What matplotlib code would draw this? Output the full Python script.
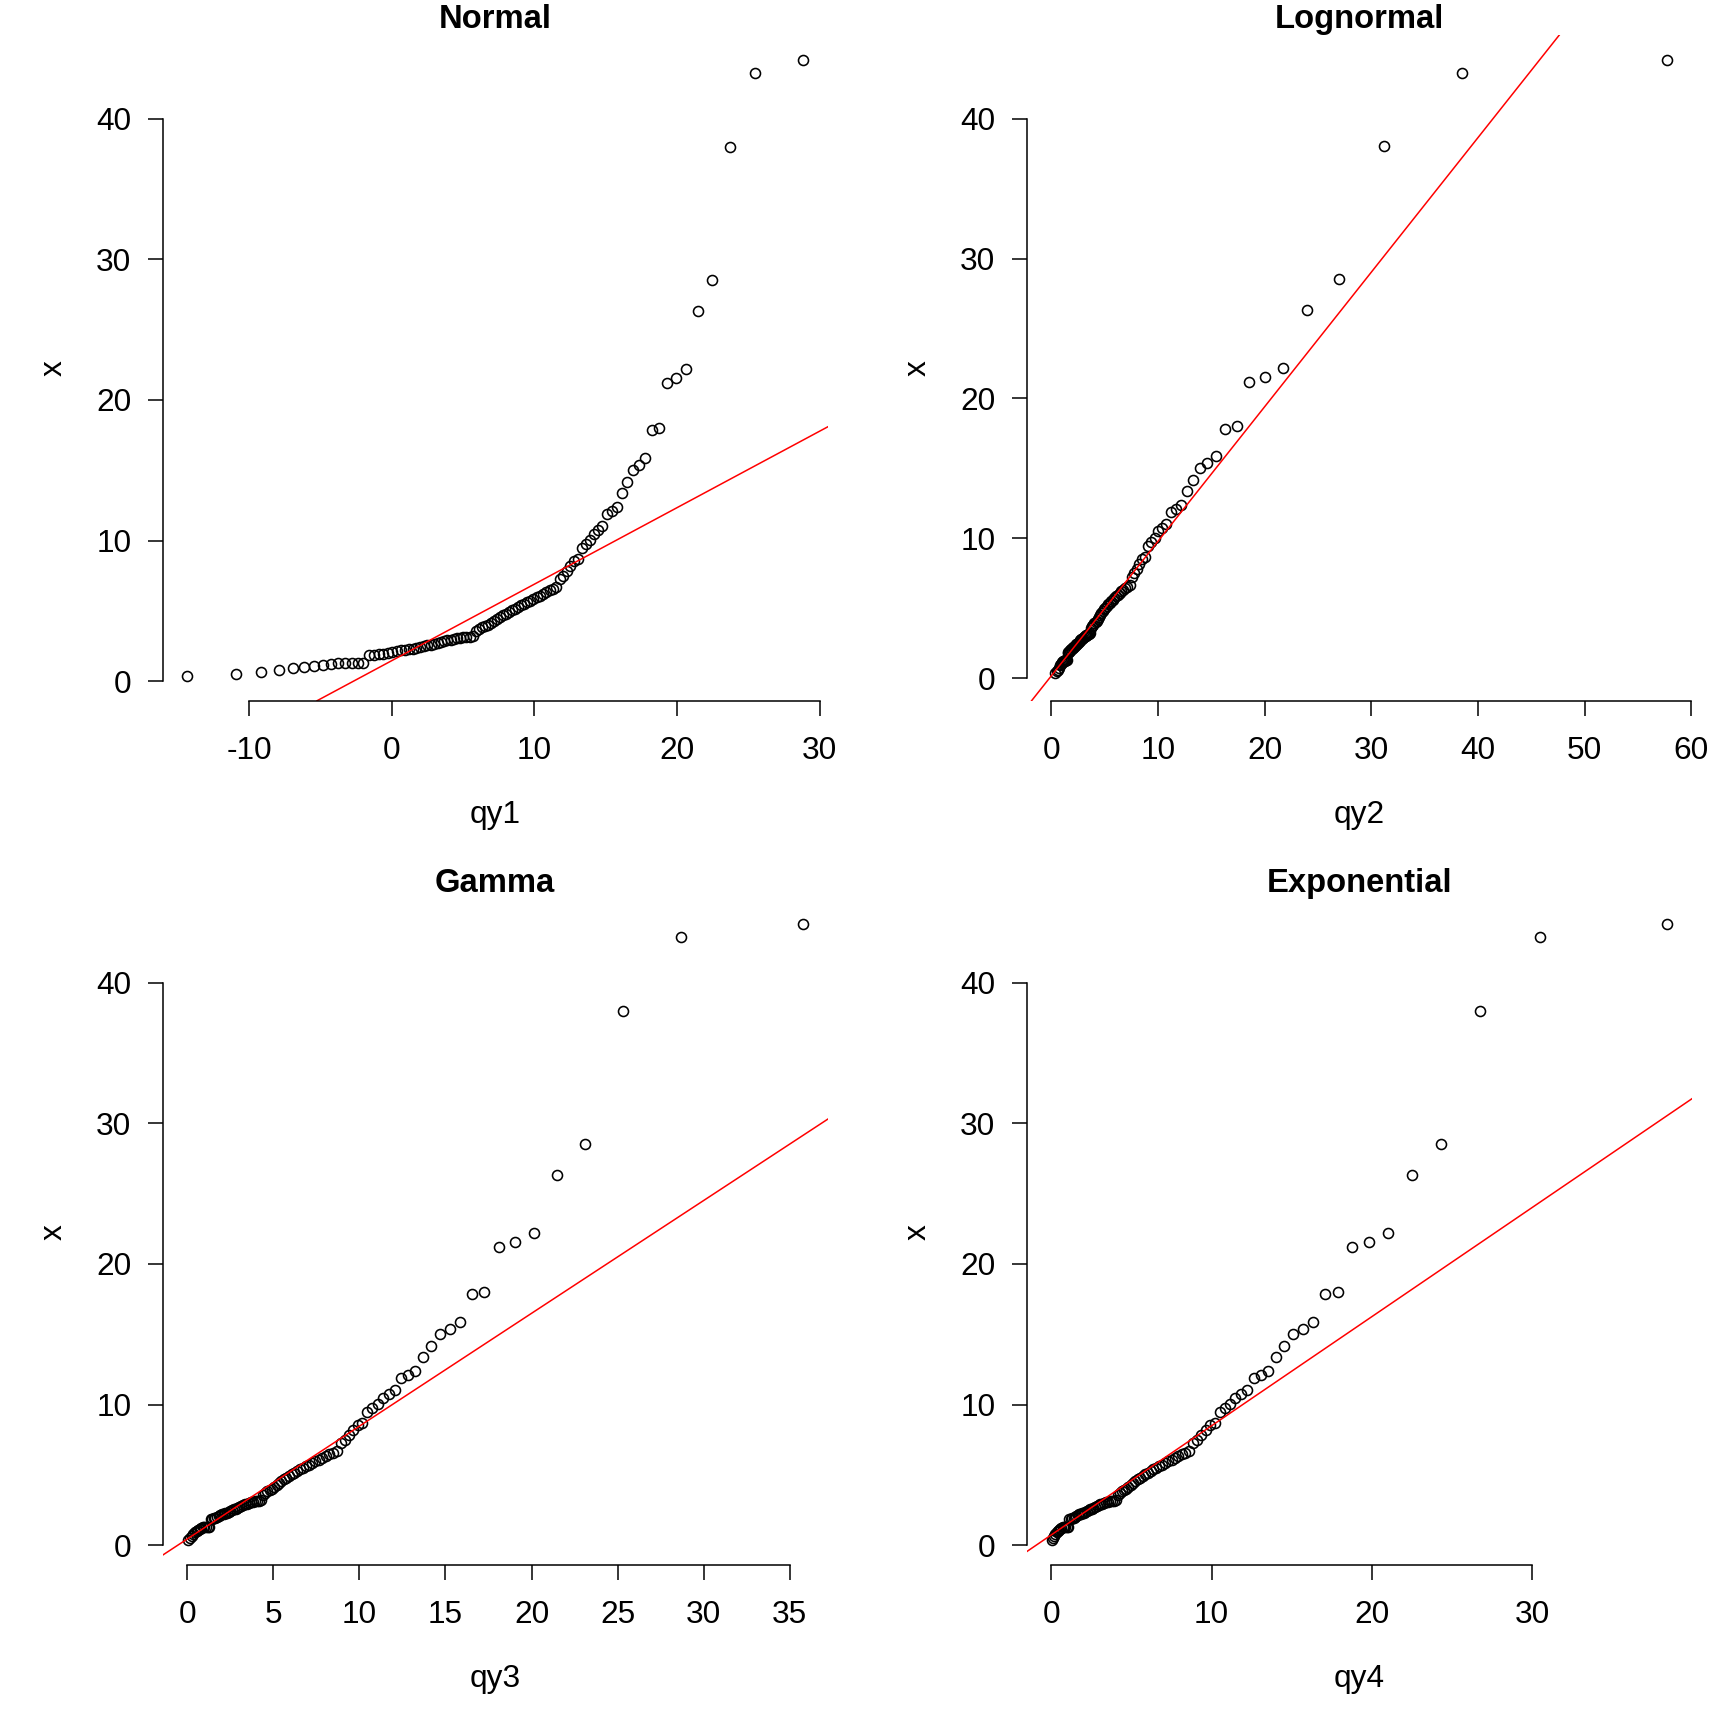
import matplotlib
matplotlib.use("Agg")
import matplotlib.pyplot as plt

plt.rcParams['font.family'] = ['Liberation Sans', 'DejaVu Sans']

# sorted sample x (shared y values of all four QQ plots)
x = [0.36, 0.50, 0.62, 0.76, 0.95, 1.00, 1.07, 1.15, 1.22, 1.26,
     1.27, 1.29, 1.30, 1.32, 1.84, 1.87, 1.90, 1.95, 2.00, 2.06,
     2.12, 2.18, 2.22, 2.27, 2.32, 2.37, 2.42, 2.48, 2.54, 2.60,
     2.66, 2.72, 2.78, 2.84, 2.90, 2.96, 3.01, 3.05, 3.08, 3.11,
     3.14, 3.17, 3.22, 3.60, 3.72, 3.82, 3.92, 4.02, 4.12, 4.26,
     4.40, 4.55, 4.68, 4.80, 4.92, 5.04, 5.16, 5.28, 5.40, 5.51,
     5.62, 5.73, 5.85, 5.97, 6.09, 6.21, 6.33, 6.45, 6.55, 6.70,
     7.25, 7.50, 7.80, 8.20, 8.55, 8.70, 9.46, 9.76, 10.02, 10.50,
     10.75, 11.02, 11.92, 12.11, 12.36, 13.35, 14.15, 15.04, 15.36, 15.86,
     17.83, 18.00, 21.18, 21.53, 22.19, 26.30, 28.51, 38.03, 43.27, 44.20]

# theoretical quantiles: Normal
qy1 = [-14.36, -10.96, -9.19, -7.95, -6.97, -6.16, -5.45, -4.83, -4.26, -3.75,
       -3.27, -2.82, -2.40, -2.01, -1.63, -1.27, -0.92, -0.59, -0.27, 0.04,
       0.34, 0.63, 0.91, 1.19, 1.46, 1.72, 1.98, 2.23, 2.48, 2.73,
       2.97, 3.21, 3.44, 3.67, 3.90, 4.13, 4.36, 4.58, 4.80, 5.02,
       5.23, 5.45, 5.66, 5.88, 6.09, 6.30, 6.51, 6.72, 6.94, 7.15,
       7.36, 7.57, 7.78, 7.99, 8.20, 8.41, 8.62, 8.84, 9.05, 9.27,
       9.48, 9.70, 9.92, 10.15, 10.37, 10.60, 10.83, 11.06, 11.29, 11.53,
       11.77, 12.02, 12.27, 12.52, 12.78, 13.04, 13.31, 13.59, 13.87, 14.16,
       14.46, 14.77, 15.09, 15.42, 15.77, 16.13, 16.51, 16.90, 17.32, 17.77,
       18.25, 18.76, 19.33, 19.95, 20.66, 21.47, 22.45, 23.69, 25.46, 28.86]

# Lognormal
qy2 = [0.34, 0.51, 0.63, 0.73, 0.82, 0.90, 0.98, 1.05, 1.13, 1.20,
       1.27, 1.34, 1.41, 1.47, 1.54, 1.61, 1.68, 1.74, 1.81, 1.88,
       1.95, 2.01, 2.08, 2.15, 2.22, 2.29, 2.37, 2.44, 2.51, 2.59,
       2.66, 2.74, 2.81, 2.89, 2.97, 3.05, 3.14, 3.22, 3.31, 3.39,
       3.48, 3.57, 3.66, 3.76, 3.85, 3.95, 4.05, 4.16, 4.26, 4.37,
       4.48, 4.59, 4.71, 4.83, 4.95, 5.08, 5.21, 5.34, 5.48, 5.62,
       5.77, 5.92, 6.08, 6.24, 6.41, 6.58, 6.77, 6.95, 7.15, 7.36,
       7.57, 7.79, 8.03, 8.27, 8.53, 8.80, 9.09, 9.39, 9.72, 10.06,
       10.42, 10.81, 11.23, 11.68, 12.17, 12.70, 13.29, 13.93, 14.64, 15.44,
       16.34, 17.38, 18.58, 20.02, 21.77, 23.98, 26.94, 31.22, 38.50, 57.75]

# Gamma
qy3 = [0.065, 0.171, 0.270, 0.365, 0.459, 0.551, 0.642, 0.732, 0.823, 0.913,
       1.003, 1.094, 1.184, 1.275, 1.367, 1.458, 1.551, 1.644, 1.737, 1.831,
       1.928, 2.023, 2.118, 2.214, 2.312, 2.409, 2.508, 2.608, 2.710, 2.812,
       2.916, 3.021, 3.128, 3.236, 3.345, 3.455, 3.567, 3.681, 3.796, 3.913,
       4.032, 4.153, 4.275, 4.399, 4.526, 4.655, 4.785, 4.918, 5.053, 5.191,
       5.331, 5.474, 5.620, 5.768, 5.920, 6.075, 6.233, 6.395, 6.560, 6.729,
       6.901, 7.079, 7.261, 7.447, 7.638, 7.835, 8.037, 8.244, 8.459, 8.680,
       8.908, 9.143, 9.387, 9.638, 9.900, 10.172, 10.454, 10.750, 11.057, 11.378,
       11.716, 12.072, 12.446, 12.841, 13.260, 13.708, 14.186, 14.701, 15.257, 15.864,
       16.530, 17.269, 18.098, 19.045, 20.149, 21.471, 23.122, 25.326, 28.660, 35.787]

# Exponential
qy4 = [0.036, 0.110, 0.184, 0.258, 0.334, 0.410, 0.487, 0.565, 0.644, 0.724,
       0.804, 0.886, 0.968, 1.051, 1.136, 1.221, 1.307, 1.395, 1.483, 1.573,
       1.663, 1.755, 1.848, 1.942, 2.038, 2.134, 2.232, 2.331, 2.432, 2.534,
       2.638, 2.743, 2.850, 2.958, 3.068, 3.179, 3.292, 3.408, 3.524, 3.643,
       3.764, 3.887, 4.012, 4.139, 4.269, 4.401, 4.535, 4.672, 4.811, 4.953,
       5.098, 5.246, 5.397, 5.551, 5.709, 5.870, 6.035, 6.204, 6.376, 6.553,
       6.734, 6.920, 7.111, 7.307, 7.508, 7.716, 7.929, 8.148, 8.375, 8.609,
       8.851, 9.101, 9.360, 9.628, 9.907, 10.197, 10.499, 10.815, 11.144, 11.489,
       11.852, 12.234, 12.637, 13.063, 13.516, 14.000, 14.518, 15.076, 15.680, 16.340,
       17.066, 17.872, 18.779, 19.817, 21.028, 22.483, 24.305, 26.744, 30.448, 38.413]

titles = ["Normal", "Lognormal", "Gamma", "Exponential"]
xlabels = ["qy1", "qy2", "qy3", "qy4"]
# reference (qq) line: intercept, slope
line_intercepts = [1.46, 0.16, 0.43, 0.72]
line_slopes = [0.544, 0.962, 0.803, 0.777]
xticks_list = [[-10, 0, 10, 20, 30],
               [0, 10, 20, 30, 40, 50, 60],
               [0, 5, 10, 15, 20, 25, 30, 35],
               [0, 10, 20, 30]]
yticks = [0, 10, 20, 30, 40]

W = 1728
fig = plt.figure(figsize=(17.28, 17.28), dpi=100)
fig.patch.set_facecolor("white")

size = 665.5 / W
lefts = [162.5 / W, (162.5 + 864) / W]
bottoms = [1 - 700.7 / W, 1 - (700.7 + 864) / W]

qys = [qy1, qy2, qy3, qy4]
for k in range(4):
    r, c = divmod(k, 2)
    ax = fig.add_axes([lefts[c], bottoms[r], size, size])
    ax.plot(qys[k], x, linestyle="none", marker="o", markersize=7.2,
            markerfacecolor="none", markeredgecolor="black", markeredgewidth=1.15)
    ax.margins(0.04)
    ax.axline((0, line_intercepts[k]), slope=line_slopes[k], color="red", lw=1.1)
    xt = xticks_list[k]
    ax.set_xticks(xt)
    ax.set_yticks(yticks)
    ax.set_xticklabels([str(v) for v in xt])
    ax.set_yticklabels([str(v) for v in yticks])
    for s in ("top", "right"):
        ax.spines[s].set_visible(False)
    ax.spines["left"].set_bounds(yticks[0], yticks[-1])
    ax.spines["bottom"].set_bounds(xt[0], xt[-1])
    for s in ("left", "bottom"):
        ax.spines[s].set_linewidth(1.1)
    ax.tick_params(axis="both", direction="out", length=11, width=1.1,
                   labelsize=22.8, colors="black")
    ax.tick_params(axis="x", pad=14.3)
    ax.tick_params(axis="y", pad=11.3)
    ax.set_title(titles[k], fontsize=23.6, fontweight="bold", pad=2.6)
    ax.set_xlabel(xlabels[k], fontsize=22.8, va="baseline")
    ax.xaxis.set_label_coords(0.5, -0.1838)
    ax.set_ylabel("x", fontsize=22.8, va="baseline")
    ax.yaxis.set_label_coords(-0.1515, 0.5)

fig.savefig("out.png", dpi=100, facecolor="white")
